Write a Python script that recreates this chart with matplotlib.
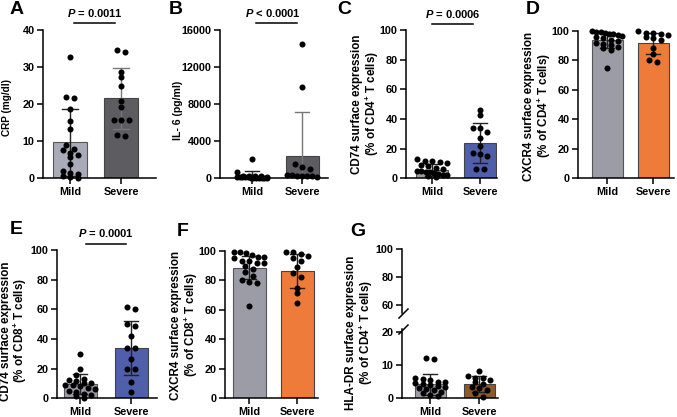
import matplotlib
matplotlib.use('Agg')
import matplotlib.pyplot as plt
from matplotlib.lines import Line2D
import numpy as np

plt.rcParams['font.family'] = ['Liberation Sans', 'DejaVu Sans']
plt.rcParams['font.weight'] = 'bold'
plt.rcParams['mathtext.fontset'] = 'custom'
plt.rcParams['mathtext.rm'] = 'Liberation Sans:bold'
plt.rcParams['mathtext.bf'] = 'Liberation Sans:bold'
plt.rcParams['mathtext.it'] = 'Liberation Sans:bold:italic'
plt.rcParams['axes.linewidth'] = 1.1

# ---------------- data ----------------
groups = ['Mild', 'Severe']

crp_mild = [32.8, 22.0, 21.6, 18.6, 15.4, 13.3, 9.1, 8.0, 7.5, 6.7, 6.4, 5.8, 3.8, 2.0, 1.5, 1.2, 0.6, 0.4, 0.2]
crp_severe = [34.6, 34.1, 28.6, 27.2, 24.9, 20.8, 19.3, 15.7, 15.7, 15.7, 11.6, 11.4]
crp_mean = [9.7, 21.6]
crp_sd = [9.1, 8.2]

il6_mild = [2100, 700, 300, 250, 220, 200, 180, 150, 130, 120, 100, 90, 80, 60, 50, 40, 30, 20, 10]
il6_severe = [14500, 9800, 1500, 1200, 1000, 400, 350, 300, 300, 250, 200, 150]
il6_mean = [250, 2450]
il6_sd = [500, 4700]

cd74_cd4_mild = [13, 12, 12, 11, 10, 9, 8, 7, 6, 5, 5, 4, 4, 3.5, 3, 2, 2, 1.5, 1]
cd74_cd4_severe = [46, 42.5, 34, 34, 31.5, 27, 22, 17, 16.5, 15, 6.5, 6.5]
cd74_cd4_mean = [5.8, 23.6]
cd74_cd4_sd = [4.0, 13.4]

cxcr4_cd4_mild = [99.5, 99, 99, 98.5, 98, 97.5, 97, 96.5, 96, 95, 94, 93, 92, 91, 90, 89, 88, 87, 75]
cxcr4_cd4_severe = [100, 98.5, 98.5, 98, 97, 95.5, 95, 94, 88, 84, 80, 78.5]
cxcr4_cd4_mean = [93.5, 91.5]
cxcr4_cd4_sd = [5.5, 7.0]

cd74_cd8_mild = [30, 19.5, 16, 13, 12.5, 12, 10, 10, 9, 9, 8, 7, 6, 5, 4, 3, 2, 1.5, 0.5]
cd74_cd8_severe = [61.5, 60, 50, 49, 42, 34, 34, 26.5, 20, 20, 11, 4.5]
cd74_cd8_mean = [9.7, 34.0]
cd74_cd8_sd = [6.6, 18.0]

cxcr4_cd8_mild = [99, 99, 98.5, 97, 96, 96, 95, 93, 93, 92, 92, 90, 88, 86, 83, 80, 79, 78, 62.5]
cxcr4_cd8_severe = [99.5, 99.5, 98, 96.5, 95.5, 93, 89, 85, 82.5, 75, 71.5, 64.5]
cxcr4_cd8_mean = [88.7, 86.7]
cxcr4_cd8_sd = [8.0, 11.5]

hladr_mild = [12.2, 11.8, 6.2, 5.8, 5.5, 5, 4.8, 4.5, 4.2, 4, 3.8, 3.5, 3, 2.8, 2.5, 2, 1.5, 1, 0.8]
hladr_severe = [8.3, 6.8, 6.2, 6, 5.5, 5, 4.2, 3.5, 3, 2.5, 1.5, 0.5]
hladr_mean = [4.2, 4.2]
hladr_sd = [3.1, 2.4]

# ---------------- style ----------------
GRAY = '#9c9ca6'
GRAY_A = '#a9abb9'
DARK = '#5c5c61'
BLUE = '#4f5fa9'
ORANGE = '#ef7b3b'
BROWN = '#8e5a2a'
TICK_FS = 7.8

W, H = 677, 417
fig = plt.figure(figsize=(W / 100, H / 100), dpi=100)


def add_ax(x0, x1, ytop, ybot):
    return fig.add_axes([x0 / W, 1 - ybot / H, (x1 - x0) / W, (ybot - ytop) / H])


def swarm(vals, ppu_y, ppu_x, sp_px=7.5, d_px=5.0, maxw=30.0):
    vals = np.asarray(vals, float)
    order = np.argsort(-vals)
    rows, cur = [], []
    for idx in order:
        if cur and (vals[cur[0]] - vals[idx]) * ppu_y > d_px:
            rows.append(cur)
            cur = []
        cur.append(idx)
    rows.append(cur)
    offs = np.zeros(len(vals))
    for r in rows:
        n = len(r)
        sp = sp_px if n < 2 else min(sp_px, maxw / (n - 1))
        for i, idx in enumerate(r):
            offs[idx] = (i - (n - 1) / 2) * sp
    return offs / ppu_x


def style_ax(ax, bottom=True):
    for s in ['top', 'right']:
        ax.spines[s].set_visible(False)
    ax.tick_params(axis='both', direction='out', length=4, width=1.1,
                   labelsize=TICK_FS, pad=2, colors='black')
    for lab in ax.get_yticklabels() + ax.get_xticklabels():
        lab.set_fontweight('bold')
    if not bottom:
        ax.spines['bottom'].set_visible(False)
        ax.set_xticks([])


def draw_bars(ax, s_px, ppu_y, bw_px, mild, severe, means, sds, colors, ecols):
    xs = np.arange(2)
    bw = bw_px / s_px
    ax.bar(xs, means, width=bw, color=colors, edgecolor=['#555559', '#444448'],
           linewidth=0.8, zorder=1)
    cap = bw * 0.45
    for x, m, sd, ec in zip(xs, means, sds, ecols):
        ax.plot([x, x], [m - sd, m + sd], color=ec, lw=1.0, zorder=2, solid_capstyle='butt')
        for yv in (m - sd, m + sd):
            ax.plot([x - cap / 2, x + cap / 2], [yv, yv], color=ec, lw=1.0, zorder=2)
    for x, vals in zip(xs, [mild, severe]):
        off = swarm(vals, ppu_y, s_px)
        ax.scatter(x + off, vals, s=19, color='black', zorder=3, linewidths=0, clip_on=False)


def panel(box, c1, c2, bw_px, ymax, yticks, mild, severe, means, sds, colors,
          ecols=('#222222', '#222222')):
    x0, x1, ytop, ybot = box
    ax = add_ax(x0, x1, ytop, ybot)
    s_px = c2 - c1
    ax.set_xlim((x0 - c1) / s_px, 1 + (x1 - c2) / s_px)
    ax.set_ylim(0, ymax)
    ppu_y = (ybot - ytop) / ymax
    draw_bars(ax, s_px, ppu_y, bw_px, mild, severe, means, sds, colors, ecols)
    ax.set_xticks([0, 1])
    ax.set_xticklabels(groups)
    ax.set_yticks(yticks)
    style_ax(ax)
    return ax


def ylabel(x, y, text, fs=8.4):
    fig.text(x / W, 1 - y / H, text, rotation=90, ha='center', va='center',
             fontsize=fs, fontweight='bold', linespacing=1.0)


def plabel(x, y, t):
    fig.text(x / W, 1 - y / H, t, ha='center', va='center', fontsize=14, fontweight='bold')


def pval(xc, yt, yl, xl0, xl1, text):
    fig.text(xc / W, 1 - yt / H, text, ha='center', va='center', fontsize=8, fontweight='bold')
    fig.add_artist(Line2D([xl0 / W, xl1 / W], [1 - yl / H, 1 - yl / H], color='black', lw=1.1))


# A
panel((43, 156, 30, 178.3), 70, 121, 34, 40, [0, 10, 20, 30, 40],
      crp_mild, crp_severe, crp_mean, crp_sd, [GRAY_A, DARK], ecols=('#222222', '#777777'))
ylabel(7, 107, 'CRP (mg/dl)', fs=7.2)
plabel(17, 10, 'A')
pval(95, 13, 22.7, 74, 115, r'$P$ = 0.0011')

# B
panel((220, 328, 30, 178.3), 252, 302, 33, 16000, [0, 4000, 8000, 12000, 16000],
      il6_mild, il6_severe, il6_mean, il6_sd, [GRAY_A, DARK], ecols=('#222222', '#777777'))
ylabel(178, 110, 'IL- 6 (pg/ml)', fs=7.6)
plabel(176, 10, 'B')
pval(273, 13, 23.3, 256, 297, r'$P$ < 0.0001')

# C
panel((406, 497, 30, 178.3), 432, 480, 32, 100, [0, 20, 40, 60, 80, 100],
      cd74_cd4_mild, cd74_cd4_severe, cd74_cd4_mean, cd74_cd4_sd, [GRAY, BLUE])
ylabel(366, 104, 'CD74 surface expression\n(% of CD4$^{+}$ T cells)')
plabel(344, 10, 'C')
pval(453, 14, 24, 432, 473, r'$P$ = 0.0006')

# D
panel((578, 674, 30.7, 178.3), 607, 653, 31, 100, [0, 20, 40, 60, 80, 100],
      cxcr4_cd4_mild, cxcr4_cd4_severe, cxcr4_cd4_mean, cxcr4_cd4_sd, [GRAY, ORANGE])
ylabel(538, 106, 'CXCR4 surface expression\n(% of CD4$^{+}$ T cells)')
plabel(533, 10, 'D')

# E
panel((57, 157, 250, 398.3), 80, 131, 33, 100, [0, 20, 40, 60, 80, 100],
      cd74_cd8_mild, cd74_cd8_severe, cd74_cd8_mean, cd74_cd8_sd, [GRAY, BLUE])
ylabel(14.5, 331, 'CD74 surface expression\n(% of CD8$^{+}$ T cells)')
plabel(16, 229, 'E')
pval(106, 233, 244.3, 86, 126, r'$P$ = 0.0001')

# F
panel((225, 318, 251, 398.3), 249, 297, 33, 100, [0, 20, 40, 60, 80, 100],
      cxcr4_cd8_mild, cxcr4_cd8_severe, cxcr4_cd8_mean, cxcr4_cd8_sd, [GRAY, ORANGE])
ylabel(185, 325, 'CXCR4 surface expression\n(% of CD8$^{+}$ T cells)')
plabel(183, 232, 'F')

# G (broken axis)
g_low = panel((402, 498, 328.6, 398.3), 430, 479, 31, 20.9, [0, 10, 20],
              hladr_mild, hladr_severe, hladr_mean, hladr_sd, [GRAY, BROWN])
g_up = add_ax(402, 498, 249.3, 313.2)
g_up.set_ylim(54, 100)
g_up.set_xlim(g_low.get_xlim())
g_up.set_yticks([60, 80, 100])
g_up.patch.set_alpha(0)
style_ax(g_up, bottom=False)
for (xa, ya, xb, yb) in [(399, 318, 408, 309), (399, 334, 408, 325)]:
    fig.add_artist(Line2D([xa / W, xb / W], [1 - ya / H, 1 - yb / H], color='black', lw=1.1))
ylabel(360, 333, 'HLA-DR surface expression\n(% of CD4$^{+}$ T cells)')
plabel(358, 232, 'G')

fig.savefig('out.png', dpi=100)
